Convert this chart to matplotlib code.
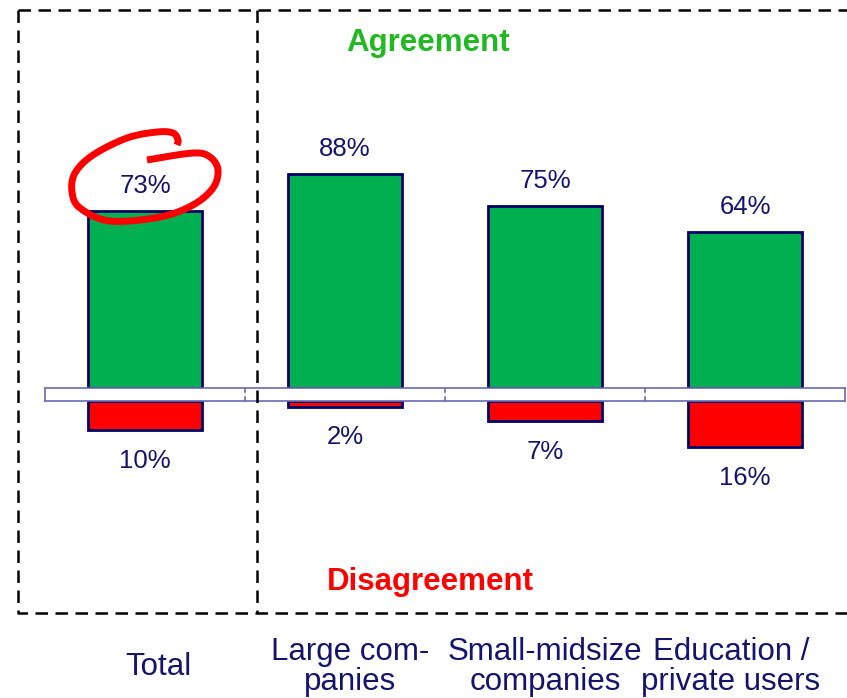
import numpy as np
import matplotlib.pyplot as plt

categories = ["Total", "Large com-\npanies", "Small-midsize\ncompanies", "Education /\nprivate users"]
agree = [73, 88, 75, 64]
disagree = [10, 2, 7, 16]

NAVY = "#14146e"
EDGE = "#000066"
GREEN = "#00b050"
RED = "#ff0000"

plt.rcParams["font.family"] = ["Liberation Sans", "DejaVu Sans"]

W, H = 847, 698
fig = plt.figure(figsize=(W / 100, H / 100), dpi=100)


def fx(px):
    return px / W


def fy(py):
    return 1 - py / H


# band between the two halves sits at y=388..401 px
top_y, bot_y = 388, 401
left_x, right_x = 45, 845
px_agree = 2.43   # px per percent
px_dis = 2.9

ax_top = fig.add_axes([fx(left_x), fy(top_y), fx(right_x - left_x), top_y / H])
ax_bot = fig.add_axes([fx(left_x), 0, fx(right_x - left_x), fy(bot_y)])
x = np.arange(len(categories))
for ax in (ax_top, ax_bot):
    ax.set_xlim(-0.5, len(categories) - 0.5)
    ax.axis("off")
ax_top.set_ylim(0, top_y / px_agree)
ax_bot.set_ylim((H - bot_y) / px_dis, 0)

ax_top.bar(x, agree, width=0.57, color=GREEN, edgecolor=EDGE, linewidth=2)
ax_bot.bar(x, disagree, width=0.57, color=RED, edgecolor=EDGE, linewidth=2)

for xi, v in zip(x, agree):
    ax_top.annotate(f"{v}%", (xi, v), xytext=(0, 18), textcoords="offset points",
                    ha="center", va="center", fontsize=18.5, color=NAVY)
for xi, v in zip(x, disagree):
    ax_bot.annotate(f"{v}%", (xi, v), xytext=(0, -22), textcoords="offset points",
                    ha="center", va="center", fontsize=18.5, color=NAVY)

# overlay in pixel coordinates for frame, band and decoration
ov = fig.add_axes([0, 0, 1, 1], zorder=5)
ov.set_xlim(0, W)
ov.set_ylim(H, 0)
ov.axis("off")
ov.patch.set_alpha(0)

band = "#6a6ab4"
ov.plot([left_x, right_x], [top_y, top_y], color=band, lw=1.2)
ov.plot([left_x, right_x], [bot_y, bot_y], color=band, lw=1.2)
for bx in [left_x, right_x]:
    ov.plot([bx, bx], [top_y, bot_y], color=band, lw=1.2)
for i in range(1, len(categories)):
    bx = left_x + i * (right_x - left_x) / len(categories)
    ov.plot([bx, bx], [top_y, top_y + 4], color=band, lw=1.2)
    ov.plot([bx, bx], [bot_y - 4, bot_y], color=band, lw=1.2)

dash = dict(color="black", lw=1.8, ls=(0, (5, 3)))
ov.plot([18, 18, 900], [10, 613, 613], **dash)
ov.plot([18, 900], [10, 10], **dash)
ov.plot([257, 257], [10, 613], **dash)

ov.text(428, 43, "Agreement", ha="center", va="center", fontsize=22.5,
        fontweight="bold", color="#22b822")
ov.text(430, 582, "Disagreement", ha="center", va="center", fontsize=22.5,
        fontweight="bold", color=RED)

label_x = [158, 350, 545, 731]
for cx, lab in zip(label_x, categories):
    ov.text(cx, 667, lab, ha="center", va="center",
            fontsize=22.5, color=NAVY, linespacing=0.98)


def catmull(pts, n=20):
    pts = np.asarray(pts, float)
    pts = np.vstack([pts[0], pts, pts[-1]])
    out = []
    for i in range(1, len(pts) - 2):
        p0, p1, p2, p3 = pts[i - 1], pts[i], pts[i + 1], pts[i + 2]
        t = np.linspace(0, 1, n)[:, None]
        out.append(0.5 * ((2 * p1) + (-p0 + p2) * t + (2 * p0 - 5 * p1 + 4 * p2 - p3) * t ** 2
                          + (-p0 + 3 * p1 - 3 * p2 + p3) * t ** 3))
    return np.vstack(out)


loop = [(147, 160), (193, 153), (210, 157), (218, 170), (213, 188), (193, 205),
        (160, 217), (110, 221), (80, 208), (72, 192), (75, 173), (93, 155),
        (127, 138), (157, 132), (173, 133), (178, 140), (177, 145)]
curve = catmull(loop)
ov.plot(curve[:, 0], curve[:, 1], color=RED, lw=5, solid_capstyle="butt")

fig.savefig("out.png", dpi=100)
